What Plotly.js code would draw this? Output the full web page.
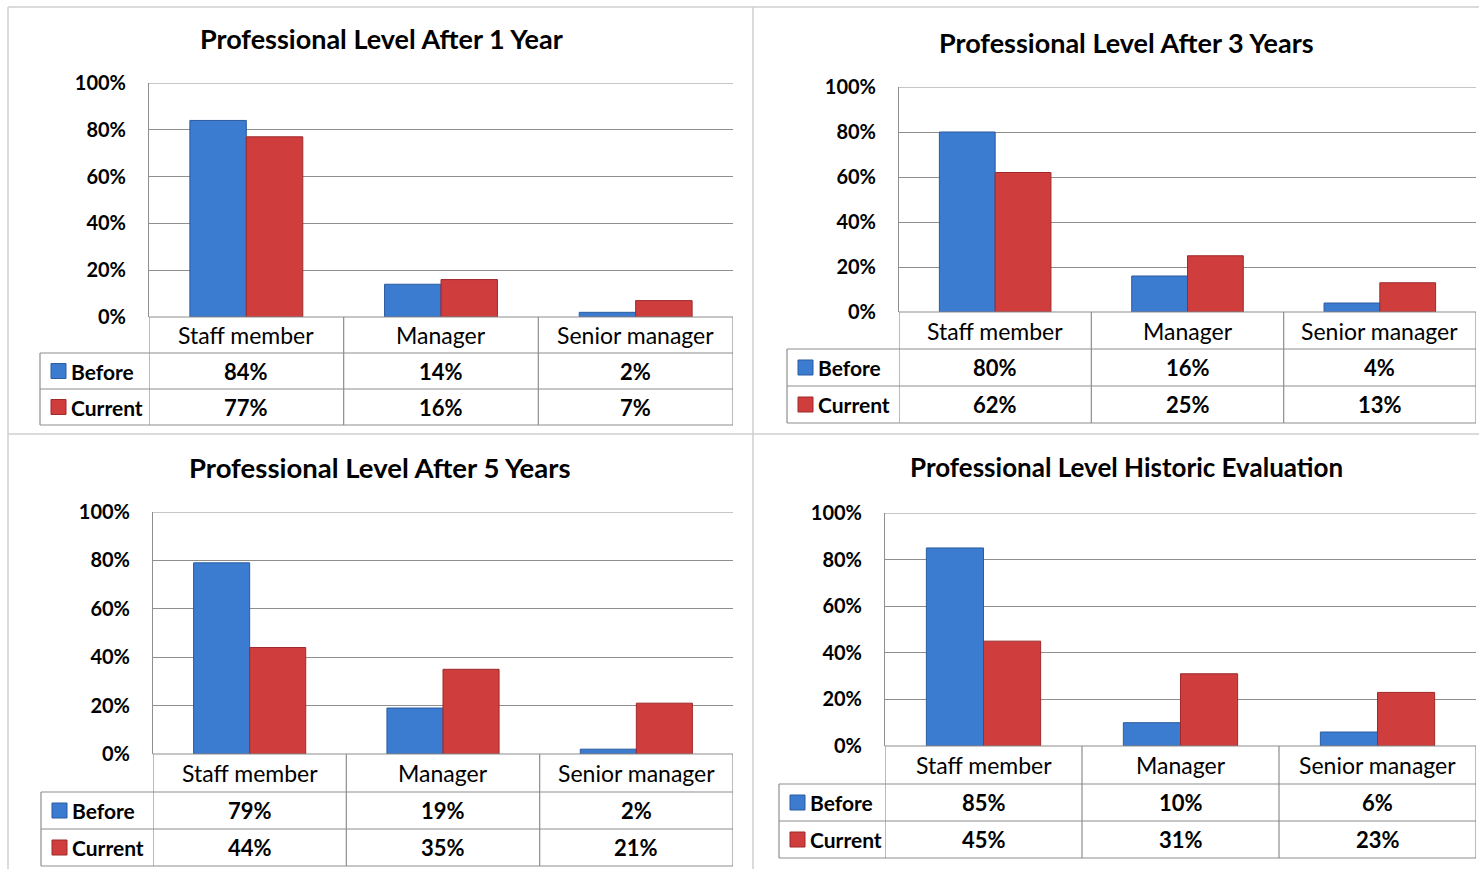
<!DOCTYPE html>
<html>
<head>
<meta charset="utf-8">
<script src="https://cdn.plot.ly/plotly-3.0.1.min.js"></script>
<style>html,body{margin:0;padding:0;background:#fff;}#chart{width:1479px;height:869px;}</style>
</head>
<body>
<div id="chart"></div>
<script>
// ---- DATA ----
const categories = ['Staff member', 'Manager', 'Senior manager'];
const seriesNames = ['Before', 'Current'];
const titles = ['Professional Level After 1 Year', 'Professional Level After 3 Years',
                'Professional Level After 5 Years', 'Professional Level Historic Evaluation'];
const before1 = [84, 14, 2];
const current1 = [77, 16, 7];
const before3 = [80, 16, 4];
const current3 = [62, 25, 13];
const before5 = [79, 19, 2];
const current5 = [44, 35, 21];
const beforeHist = [85, 10, 6];
const currentHist = [45, 31, 23];
const yTicks = [0, 20, 40, 60, 80, 100];

// ---- LAYOUT GEOMETRY (pixels) ----
const W = 1479, H = 869;
const X = p => p / W, Y = p => 1 - p / H;
const FONT = 'Lato, "Open Sans", sans-serif';
const BLUE = '#3b7bd0', BLUE_D = '#2a5c9f';
const RED = '#cf3d3d', RED_D = '#9e2a2a';
const LINE = '#8e8e8e';

const panels = [
  {title: titles[0], before: before1, current: current1, L: 149, R: 733, T: 83, B: 317, tableL: 40, rows: [317, 353, 389, 425], tx: 381, ty: 39},
  {title: titles[1], before: before3, current: current3, L: 899, R: 1476, T: 87, B: 312, tableL: 787, rows: [312, 349, 386, 423], tx: 1126, ty: 42},
  {title: titles[2], before: before5, current: current5, L: 153, R: 733, T: 512, B: 754, tableL: 41, rows: [754, 792, 829, 866], tx: 380, ty: 468},
  {title: titles[3], before: beforeHist, current: currentHist, L: 885, R: 1476, T: 513, B: 746, tableL: 779, rows: [746, 784, 821, 858], tx: 1126, ty: 467}
];
const titleSizes = [27, 27, 27.5, 26];

const data = [], annotations = [], shapes = [];
const layout = {
  width: W, height: H, margin: {l: 0, r: 0, t: 0, b: 0},
  paper_bgcolor: '#ffffff', plot_bgcolor: 'rgba(0,0,0,0)',
  showlegend: false, barmode: 'group', bargap: 0.42, bargroupgap: 0,
  font: {family: FONT, color: '#000'}
};

// panel frames
const frameC = '#cfcfcf';
shapes.push({type: 'line', xref: 'paper', yref: 'paper', x0: X(8), x1: 1, y0: Y(7), y1: Y(7), line: {color: frameC, width: 1.5}});
shapes.push({type: 'line', xref: 'paper', yref: 'paper', x0: X(8), x1: 1, y0: Y(434), y1: Y(434), line: {color: frameC, width: 1.5}});
shapes.push({type: 'line', xref: 'paper', yref: 'paper', x0: X(8), x1: X(8), y0: Y(7), y1: 0, line: {color: frameC, width: 1.5}});
shapes.push({type: 'line', xref: 'paper', yref: 'paper', x0: X(753), x1: X(753), y0: Y(7), y1: 0, line: {color: frameC, width: 1.5}});

panels.forEach((p, i) => {
  const n = i + 1;
  const xa = 'x' + (n > 1 ? n : ''), ya = 'y' + (n > 1 ? n : '');
  const xk = 'xaxis' + (n > 1 ? n : ''), yk = 'yaxis' + (n > 1 ? n : '');
  const vals = [p.before, p.current];
  const cols = [[BLUE, BLUE_D], [RED, RED_D]];

  vals.forEach((v, j) => {
    data.push({
      type: 'bar', x: categories, y: v, name: seriesNames[j], xaxis: xa, yaxis: ya,
      marker: {color: cols[j][0], line: {color: cols[j][1], width: 1}},
      hoverinfo: 'skip'
    });
  });

  layout[xk] = {domain: [X(p.L), X(p.R)], anchor: ya, range: [-0.5, 2.5], showticklabels: false,
                showgrid: false, zeroline: false, showline: false, fixedrange: true};
  layout[yk] = {domain: [Y(p.B), Y(p.T)], anchor: xa, range: [0, 100], tickvals: yTicks,
                ticktext: yTicks.map(v => v + '%'), showgrid: true, gridcolor: LINE, gridwidth: 1,
                showline: true, linecolor: LINE, linewidth: 1, zeroline: false, ticks: '',
                ticklabelstandoff: 18, tickfont: {family: FONT, size: 20, weight: 'bold', color: '#000'},
                fixedrange: true};

  const r = p.rows;
  const ln = {color: LINE, width: 1.2};
  // top gridline at the range edge (plotly omits it)
  shapes.push({type: 'line', xref: xa, yref: ya, x0: -0.5, x1: 2.5, y0: yTicks[yTicks.length - 1], y1: yTicks[yTicks.length - 1], line: {color: LINE, width: 1}, layer: 'below'});
  // horizontal table lines
  shapes.push({type: 'line', xref: xa, yref: 'paper', x0: -0.5, x1: 2.5, y0: Y(r[0]), y1: Y(r[0]), line: ln});
  for (let k = 1; k <= 3; k++) {
    shapes.push({type: 'line', xref: 'paper', yref: 'paper', x0: X(p.tableL), x1: X(p.R), y0: Y(r[k]), y1: Y(r[k]), line: ln});
  }
  // vertical table lines
  shapes.push({type: 'line', xref: 'paper', yref: 'paper', x0: X(p.tableL), x1: X(p.tableL), y0: Y(r[1]), y1: Y(r[3]), line: ln});
  [-0.5, 0.5, 1.5, 2.5].forEach(xv => {
    shapes.push({type: 'line', xref: xa, yref: 'paper', x0: xv, x1: xv, y0: Y(r[0]), y1: Y(r[3]), line: ln});
  });

  // title
  annotations.push({xref: 'paper', yref: 'paper', x: X(p.tx), y: Y(p.ty), text: p.title, showarrow: false,
                    xanchor: 'center', yanchor: 'middle', font: {family: FONT, size: titleSizes[i], weight: 'bold', color: '#000'}});
  // category header
  categories.forEach(c => {
    annotations.push({xref: xa, yref: 'paper', x: c, y: Y((r[0] + r[1]) / 2), text: c, showarrow: false,
                      xanchor: 'center', yanchor: 'middle', font: {family: FONT, size: 23, color: '#000'}});
  });
  // rows
  vals.forEach((v, j) => {
    const cy = (r[j + 1] + r[j + 2]) / 2;
    v.forEach((val, k) => {
      annotations.push({xref: xa, yref: 'paper', x: categories[k], y: Y(cy), text: val + '%', showarrow: false,
                        xanchor: 'center', yanchor: 'middle', font: {family: FONT, size: 22, weight: 'bold', color: '#000'}});
    });
    annotations.push({xref: 'paper', yref: 'paper', x: X(p.tableL + 29), y: Y(cy), text: seriesNames[j], showarrow: false,
                      xanchor: 'left', yanchor: 'middle', font: {family: FONT, size: 21, weight: 'bold', color: '#000'}});
    shapes.push({type: 'rect', xref: 'paper', yref: 'paper', x0: X(p.tableL + 11), x1: X(p.tableL + 26),
                 y0: Y(cy - 7.5), y1: Y(cy + 7.5), fillcolor: cols[j][0], line: {color: cols[j][1], width: 1}});
  });
});

layout.annotations = annotations;
layout.shapes = shapes;
Plotly.newPlot('chart', data, layout, {displayModeBar: false, staticPlot: true});
</script>
</body>
</html>
